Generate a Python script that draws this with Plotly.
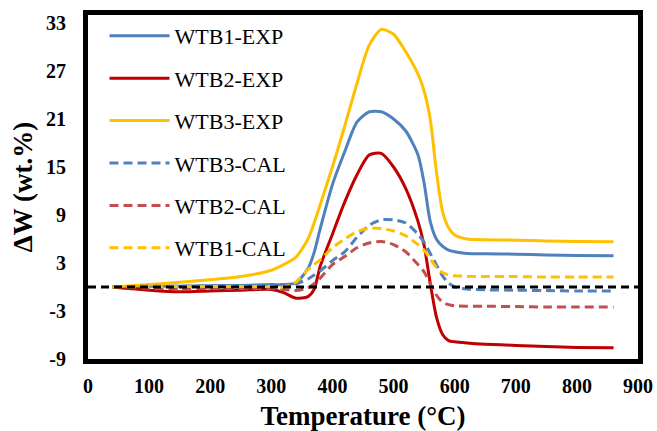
import plotly.graph_objects as go

temperature = [40, 100, 150, 200, 250, 300, 320, 340, 360, 370, 380, 400, 420, 440, 460, 480,
               500, 520, 540, 550, 560, 570, 580, 590, 600, 620, 650, 700, 750, 800, 860]

wtb1_exp = [0, 0.1, 0.1, 0.15, 0.2, 0.3, 0.3, 0.5, 2.3, 4.3, 7.3, 12.8, 16.9, 20.6, 21.9, 21.9,
            21.0, 19.5, 16.5, 13.0, 8.2, 6.0, 5.1, 4.6, 4.4, 4.2, 4.15, 4.1, 4.0, 3.95, 3.9]
wtb2_exp = [0, -0.4, -0.6, -0.5, -0.4, -0.3, -0.7, -1.4, -1.2, -0.3, 2.6, 6.6, 10.6, 14.0, 16.5, 16.7,
            15.0, 12.3, 8.2, 5.2, 0.5, -3.7, -5.9, -6.7, -6.85, -7.0, -7.15, -7.3, -7.45, -7.55, -7.6]
wtb3_exp = [0, 0.3, 0.6, 0.9, 1.3, 2.1, 2.8, 3.7, 6.0, 8.0, 10.3, 15.0, 20.1, 25.4, 30.2, 32.2,
            31.6, 29.4, 26.6, 24.5, 21.0, 14.5, 9.5, 7.4, 6.5, 6.0, 5.9, 5.85, 5.75, 5.7, 5.65]
wtb3_cal = [0, 0.1, 0.1, 0.15, 0.15, 0.2, 0.3, 0.4, 1.0, 1.5, 2.0, 3.3, 4.4, 6.2, 7.7, 8.4,
            8.4, 8.0, 6.6, 5.6, 4.2, 2.8, 1.4, 0.5, 0.0, -0.25, -0.35, -0.4, -0.45, -0.5, -0.5]
wtb2_cal = [0, -0.15, -0.2, -0.2, -0.2, -0.2, -0.3, -0.45, -0.1, 0.4, 1.1, 2.8, 3.8, 4.9, 5.5, 5.7,
            5.3, 4.4, 2.8, 1.9, 0.4, -1.0, -1.9, -2.2, -2.35, -2.4, -2.4, -2.45, -2.5, -2.5, -2.5]
wtb1_cal = [0, 0.05, 0.05, 0.05, 0.05, 0.05, 0.0, 0.6, 2.2, 2.8, 3.4, 4.9, 6.0, 6.9, 7.35, 7.3,
            7.0, 6.4, 5.3, 4.6, 3.5, 2.5, 1.8, 1.5, 1.4, 1.35, 1.3, 1.3, 1.25, 1.25, 1.25]

series = [
    ("WTB1-EXP", wtb1_exp, "#4F81BD", "solid"),
    ("WTB2-EXP", wtb2_exp, "#C00000", "solid"),
    ("WTB3-EXP", wtb3_exp, "#FFC000", "solid"),
    ("WTB3-CAL", wtb3_cal, "#4F81BD", "9px,5px"),
    ("WTB2-CAL", wtb2_cal, "#C0504D", "9px,5px"),
    ("WTB1-CAL", wtb1_cal, "#FFC000", "9px,5px"),
]

x_ticks = [0, 100, 200, 300, 400, 500, 600, 700, 800, 900]
y_ticks = [-9, -3, 3, 9, 15, 21, 27, 33]
y_tick_text = ["-9", "-3", "3", "9", "15", "21", "27", "33"]

FONT = "Times New Roman, Liberation Serif, serif"

fig = go.Figure()
for name, vals, color, dash in series:
    fig.add_trace(go.Scatter(
        x=temperature, y=vals, name=name, mode="lines", legendgroup=name,
        line=dict(color=color, width=3, dash=dash, shape="spline", smoothing=0.7),
    ))

fig.add_shape(type="line", xref="paper", x0=0, x1=1, yref="y", y0=0, y1=0,
              line=dict(color="black", width=3, dash="8px,5px"), layer="above")

fig.update_layout(
    width=657, height=431,
    margin=dict(l=88, r=19, t=15, b=72),
    paper_bgcolor="white", plot_bgcolor="white",
    font=dict(family=FONT, color="black"),
    showlegend=True,
    legend=dict(x=0.03, y=1.0, xanchor="left", yanchor="top",
                font=dict(family=FONT, size=22, color="black"),
                bgcolor="rgba(0,0,0,0)", tracegroupgap=10.8, itemwidth=60),
    xaxis=dict(range=[0, 900], tickvals=x_ticks, showgrid=False, zeroline=False,
               showline=True, linecolor="black", linewidth=5, mirror=True,
               ticks="", ticklabelstandoff=5, automargin=False,
               tickfont=dict(family=FONT, size=20, color="black", weight="bold"),
               title=dict(text="<b>Temperature (°C)</b>", standoff=12,
                          font=dict(family=FONT, size=27, color="black"))),
    yaxis=dict(range=[-9, 34], tickvals=y_ticks, ticktext=y_tick_text,
               showgrid=False, zeroline=False,
               showline=True, linecolor="black", linewidth=5, mirror=True,
               ticks="", ticklabelstandoff=13, automargin=False,
               tickfont=dict(family=FONT, size=20, color="black", weight="bold"),
               title=dict(text="<b>ΔW (wt.%)</b>", standoff=7,
                          font=dict(family=FONT, size=27, color="black"))),
)

fig.write_html("out.html")
